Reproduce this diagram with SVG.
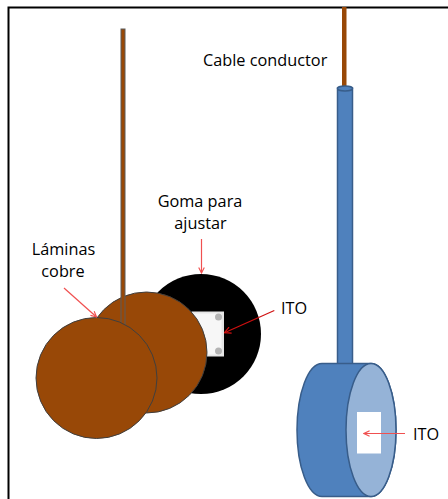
<svg xmlns="http://www.w3.org/2000/svg" width="448" height="499" viewBox="0 0 448 499">
  <defs>
    <style>
      .lbl { font-family: "Open Sans", "Liberation Sans", sans-serif; font-size: 16.3px; fill: #000; }
      .copper { fill: #984807; stroke: #3f3f3f; stroke-width: 1; }
      .lead { stroke: #f05050; stroke-width: 1.2; fill: none; }
      .lead-dark { stroke: #d01010; stroke-width: 1.2; fill: none; }
      .blue { fill: #4f81bd; stroke: #385d8a; stroke-width: 1.5; }
    </style>
    <marker id="vhead" viewBox="0 0 10 10" refX="9" refY="5" markerWidth="7" markerHeight="7" markerUnits="userSpaceOnUse" orient="auto">
      <path d="M1,1 L9,5 L1,9" fill="none" stroke="#f05050" stroke-width="1.6"/>
    </marker>
    <marker id="vhead-dark" viewBox="0 0 10 10" refX="9" refY="5" markerWidth="8" markerHeight="8" markerUnits="userSpaceOnUse" orient="auto">
      <path d="M1,1 L9,5 L1,9" fill="none" stroke="#d01010" stroke-width="1.6"/>
    </marker>
  </defs>

  <rect width="448" height="499" fill="#fff"/>

  <!-- frame -->
  <path d="M8.5,499 L8.5,7.5 L448,7.5" fill="none" stroke="#000" stroke-width="2"/>

  <!-- rubber ring with ITO window -->
  <g id="goma">
    <circle cx="201" cy="334" r="60" fill="#000"/>
    <rect x="191.5" y="311.5" width="32.5" height="45" fill="#e6e6e6"/>
    <rect x="193.5" y="313.5" width="28" height="41" fill="#f7f7f7"/>
    <circle cx="218.5" cy="317" r="3.5" fill="#b4b4b4"/>
    <circle cx="218.5" cy="351" r="3.5" fill="#b4b4b4"/>
  </g>

  <!-- copper sheets and rod -->
  <g id="lamina-back">
    <circle class="copper" cx="146.5" cy="352.5" r="60.5"/>
  </g>
  <g id="varilla">
    <rect x="121" y="29" width="4" height="296" fill="#984807" stroke="#5a5a5a" stroke-width="1"/>
  </g>
  <g id="lamina-front">
    <circle class="copper" cx="96.5" cy="378" r="60.5"/>
  </g>

  <!-- cable and blue electrode -->
  <g id="cable">
    <rect x="342" y="7" width="4.5" height="82" fill="#984807"/>
  </g>
  <g id="tubo">
    <rect class="blue" x="337.5" y="88" width="15" height="282"/>
    <ellipse class="blue" cx="345" cy="88.5" rx="7.5" ry="2.5"/>
  </g>
  <g id="cilindro">
    <path class="blue" d="M322,363.5 L371,363.5 A25,66.5 0 0 1 371,496.5 L322,496.5 A25,66.5 0 0 1 322,363.5 Z"/>
    <ellipse cx="371" cy="430" rx="25" ry="66.5" fill="#95b3d7" stroke="#385d8a" stroke-width="1.5"/>
    <rect x="357" y="412" width="24" height="41.5" fill="#fff"/>
  </g>

  <!-- labels -->
  <g id="labels">
    <text class="lbl" x="63.5" y="255" text-anchor="middle">Láminas</text>
    <text class="lbl" x="63" y="277" text-anchor="middle">cobre</text>
    <text class="lbl" x="200" y="207" text-anchor="middle">Goma para</text>
    <text class="lbl" x="200.5" y="228.5" text-anchor="middle">ajustar</text>
    <text class="lbl" x="203" y="66">Cable conductor</text>
    <text class="lbl" x="281" y="313.5">ITO</text>
    <text class="lbl" x="413" y="439.5">ITO</text>
  </g>

  <!-- leader arrows -->
  <g id="connectors">
    <line class="lead" x1="64" y1="288" x2="96.5" y2="317" marker-end="url(#vhead)"/>
    <line class="lead" x1="201.5" y1="239" x2="201.5" y2="273" marker-end="url(#vhead)"/>
    <line class="lead-dark" x1="274.3" y1="310.5" x2="224.5" y2="332.7" marker-end="url(#vhead-dark)"/>
    <line class="lead" x1="405" y1="433.5" x2="364" y2="433.5" marker-end="url(#vhead)"/>
  </g>
</svg>
